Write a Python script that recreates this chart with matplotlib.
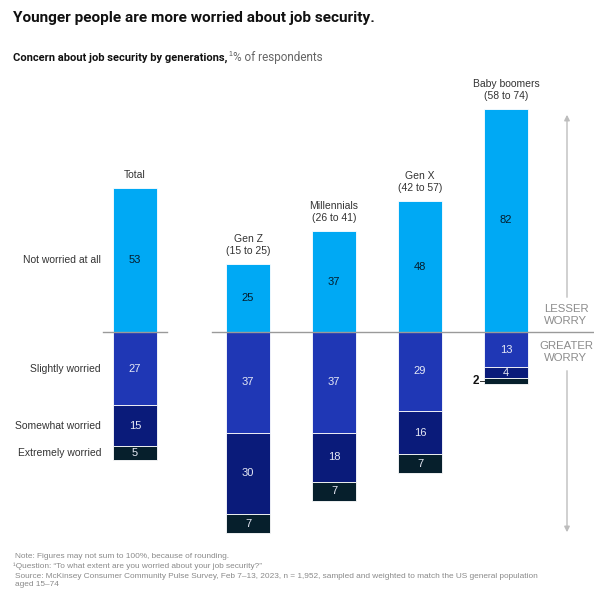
import matplotlib.pyplot as plt
import numpy as np

plt.rcParams['font.family'] = ['Liberation Sans', 'DejaVu Sans']

groups = ["Total", "Gen Z", "Millennials", "Gen X", "Baby boomers"]
ages = ["", "(15 to 25)", "(26 to 41)", "(42 to 57)", "(58 to 74)"]
not_worried = [53, 25, 37, 48, 82]
slightly = [27, 37, 37, 29, 13]
somewhat = [15, 30, 18, 16, 4]
extremely = [5, 7, 7, 7, 2]
levels = ["Not worried at all", "Slightly worried", "Somewhat worried", "Extremely worried"]
colors = ["#00A9F4", "#1F37B5", "#0A1B7A", "#061F2C"]

W, H = 594, 589
BASE = 332      # pixel row of the zero line
SCALE = 2.72    # pixels per percentage point
xpos = np.array([135, 248, 334, 420, 506])
width = 44
head_font = ['Roboto', 'DejaVu Sans']


def fx(px):
    return px / W


def fy(py):
    return 1 - py / H


fig = plt.figure(figsize=(W / 100, H / 100), dpi=100)
ax = fig.add_axes([0, 0, 1, 1])
ax.set_xlim(0, W)
ax.set_ylim(-(H - BASE) / SCALE, BASE / SCALE)
ax.axis("off")

up = np.array(not_worried)
d1 = -np.array(slightly)
d2 = -np.array(somewhat)
d3 = -np.array(extremely)

ax.bar(xpos, up, width, color=colors[0], edgecolor="white", linewidth=0.6, zorder=2)
ax.bar(xpos, d1, width, color=colors[1], edgecolor="white", linewidth=0.6, zorder=2)
ax.bar(xpos, d2, width, bottom=d1, color=colors[2], edgecolor="white", linewidth=0.6, zorder=2)
ax.bar(xpos, d3, width, bottom=d1 + d2, color=colors[3], edgecolor="white", linewidth=0.6, zorder=2)

# zero line, broken between Total and the generations
ax.plot([103, 167], [0, 0], color="#9a9a9a", lw=1, zorder=3)
ax.plot([212, W], [0, 0], color="#9a9a9a", lw=1, zorder=3)

# value labels
for i, x in enumerate(xpos):
    ax.text(x, up[i] / 2, str(not_worried[i]), ha="center", va="center",
            fontsize=8, color="#051C2C", zorder=4)
    ax.text(x, d1[i] / 2, str(slightly[i]), ha="center", va="center",
            fontsize=8, color="#e6e9f5", zorder=4)
    ax.text(x, d1[i] + d2[i] / 2, str(somewhat[i]), ha="center", va="center",
            fontsize=8, color="#e6e9f5", zorder=4)
    if extremely[i] >= 5:
        ax.text(x, d1[i] + d2[i] + d3[i] / 2, str(extremely[i]), ha="center", va="center",
                fontsize=8, color="#e6e9f5", zorder=4)
    else:
        yy = d1[i] + d2[i] + d3[i] / 2
        ax.plot([x - width / 2 - 4, x - width / 2], [yy, yy], color="#333333", lw=0.7)
        ax.text(x - width / 2 - 4.5, yy, str(extremely[i]), ha="right", va="center",
                fontsize=8.5, color="#111111", fontweight="bold")

# group labels above bars
for i, x in enumerate(xpos):
    top = up[i] + 8 / SCALE
    label = groups[i] if not ages[i] else groups[i] + "\n" + ages[i]
    ax.text(x, top, label, ha="center", va="bottom", fontsize=7.5,
            color="#333333", linespacing=1.25)

# row labels for Total
row_y = [up[0] / 2, d1[0] / 2, d1[0] + d2[0] / 2, d1[0] + d2[0] + d3[0] / 2]
for lab, yy in zip(levels, row_y):
    ax.text(101, yy, lab, ha="right", va="center", fontsize=7.5, color="#333333")

# worry arrow on the right
ax.annotate("", xy=(567, (BASE - 112) / SCALE), xytext=(567, (BASE - 300) / SCALE),
            arrowprops=dict(arrowstyle="-|>", color="#bdbdbd", lw=1, mutation_scale=8))
ax.annotate("", xy=(567, (BASE - 535) / SCALE), xytext=(567, (BASE - 368) / SCALE),
            arrowprops=dict(arrowstyle="-|>", color="#bdbdbd", lw=1, mutation_scale=8))
ax.text(566, (BASE - 315) / SCALE, "LESSER\nWORRY", ha="center", va="center",
        fontsize=8.2, color="#8c8c8c", linespacing=1.35)
ax.text(566, (BASE - 352) / SCALE, "GREATER\nWORRY", ha="center", va="center",
        fontsize=8.2, color="#8c8c8c", linespacing=1.35)

# titles
fig.text(fx(13), fy(18), "Younger people are more worried about job security.",
         ha="left", va="center", fontsize=11.1, fontweight="bold", color="#111111",
         family=head_font)
t = fig.text(fx(13), fy(58), "Concern about job security by generations,",
             ha="left", va="center", fontsize=8.0, fontweight="bold", color="#111111",
             family=head_font)
fig.canvas.draw()
bb = t.get_window_extent()
x1 = bb.x1 / W
fig.text(x1 + 0.001, fy(55), "1", ha="left", va="center", fontsize=5, color="#555555")
fig.text(x1 + 0.010, fy(58), "% of respondents", ha="left", va="center",
         fontsize=8.5, color="#666666", family=head_font)

# footnotes
notes = [
    (15, 557, "Note: Figures may not sum to 100%, because of rounding."),
    (13, 566, "\u00b9Question: \u201cTo what extent are you worried about your job security?\u201d"),
    (15, 576, "Source: McKinsey Consumer Community Pulse Survey, Feb 7\u201313, 2023, n = 1,952, "
              "sampled and weighted to match the US general population"),
    (15, 584, "aged 15\u201374"),
]
for x, y, s in notes:
    fig.text(fx(x), fy(y), s, ha="left", va="center", fontsize=5.95, color="#8a8a8a")

fig.savefig("out.png", dpi=100, facecolor="white")
